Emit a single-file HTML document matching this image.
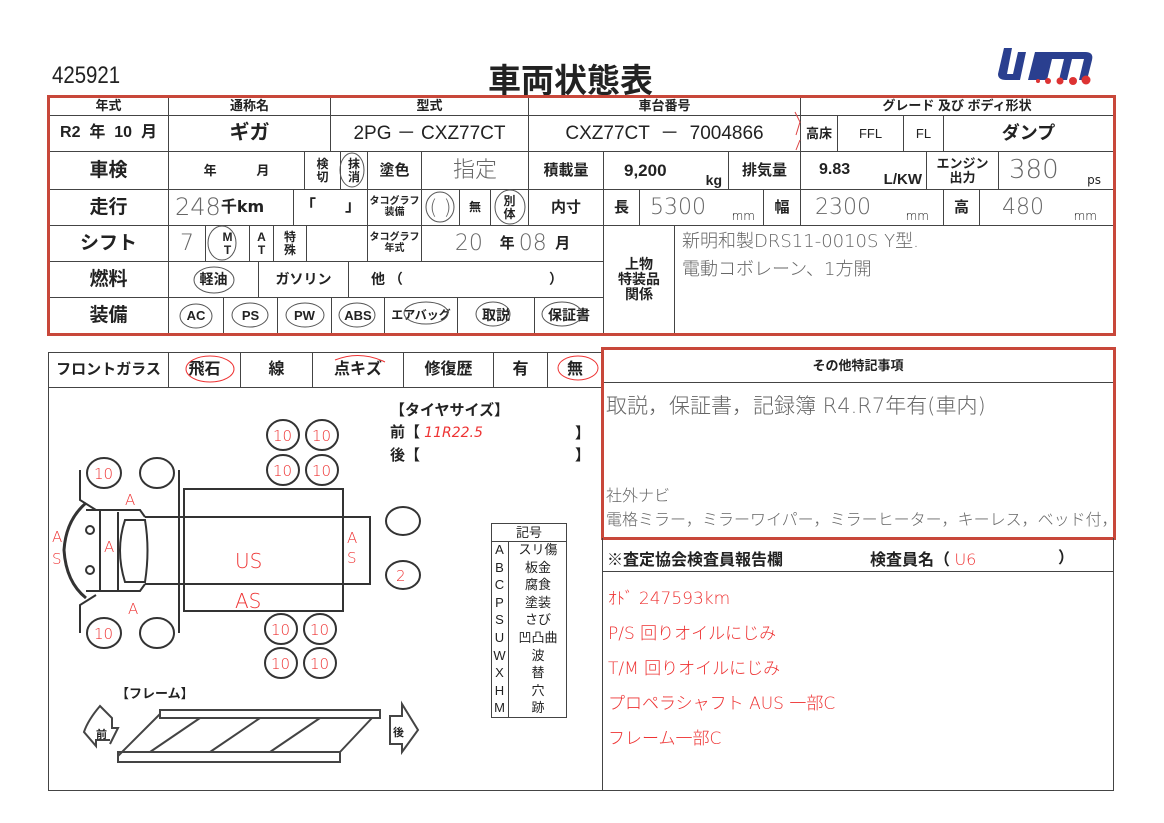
<!DOCTYPE html>
<html><head><meta charset="utf-8">
<style>
*{margin:0;padding:0;box-sizing:border-box}
body{width:1164px;height:823px;background:#fff;position:relative;overflow:hidden;font-family:"Liberation Sans","Noto Sans CJK JP",sans-serif;color:#222}
.c{position:absolute;border:1px solid #444;display:flex;align-items:center;justify-content:center;text-align:center;line-height:1.05;white-space:nowrap}
.b{font-weight:bold}
.h{font-family:"DejaVu Sans","Noto Sans CJK JP",sans-serif;font-weight:200;color:#666}
.r{color:#e33;font-family:"DejaVu Sans","Noto Sans CJK JP",sans-serif;font-weight:200}
.t{position:absolute;white-space:nowrap}
.red{position:absolute;border:3px solid #c8473a}
</style></head><body>
<div class="t" style="left:52px;top:62px;font-size:24px;transform:scaleX(0.85);transform-origin:left">425921</div>
<div class="t b" style="left:488px;top:54px;font-size:33px;">車両状態表</div>
<svg class="t" style="left:990px;top:42px" width="115" height="45" viewBox="0 0 115 45">
<path d="M14 6 L8 32 Q8 38 16 38 L30 38 L36 10 L28 10 L23 32 L17 32 L22 6 Z" fill="#2a3f8f"/>
<path d="M38 38 L45 10 L95 10 Q104 10 102 18 L97 38 L89 38 L94 17 L82 17 L77 38 L69 38 L74 17 L62 17 L57 38 Z" fill="#2a3f8f"/>
<circle cx="48" cy="39" r="2" fill="#d33"/><circle cx="58" cy="39" r="3" fill="#d33"/><circle cx="70" cy="39" r="3.5" fill="#d33"/><circle cx="83" cy="39" r="4" fill="#d33"/><circle cx="96" cy="38" r="4.5" fill="#d33"/>
</svg>

<!-- top table -->
<div class="c b" style="left:48px;top:96px;width:121px;height:20px;font-size:13px">年式</div>
<div class="c b" style="left:168px;top:96px;width:163px;height:20px;font-size:13px">通称名</div>
<div class="c b" style="left:330px;top:96px;width:199px;height:20px;font-size:13px">型式</div>
<div class="c b" style="left:528px;top:96px;width:273px;height:20px;font-size:13px">車台番号</div>
<div class="c b" style="left:800px;top:96px;width:314px;height:20px;font-size:13px">グレード 及び ボディ形状</div>

<div class="c b" style="left:48px;top:115px;width:121px;height:37px;font-size:16px">R2 &nbsp;年 &nbsp;10 &nbsp;月</div>
<div class="c b" style="left:168px;top:115px;width:163px;height:37px;font-size:20px">ギガ</div>
<div class="c" style="left:330px;top:115px;width:199px;height:37px;font-size:19px">2PG － CXZ77CT</div>
<div class="c" style="left:528px;top:115px;width:273px;height:37px;font-size:19px">CXZ77CT &nbsp;－ &nbsp;7004866</div>
<div class="c b" style="left:800px;top:115px;width:38px;height:37px;font-size:13px">高床</div>
<div class="c" style="left:837px;top:115px;width:67px;height:37px;font-size:13px">FFL</div>
<div class="c" style="left:903px;top:115px;width:41px;height:37px;font-size:13px">FL</div>
<div class="c b" style="left:943px;top:115px;width:171px;height:37px;font-size:18px">ダンプ</div>

<div class="c b" style="left:48px;top:151px;width:121px;height:39px;font-size:19px">車検</div>
<div class="c b" style="left:168px;top:151px;width:137px;height:39px;font-size:13px">年 &nbsp; &nbsp; &nbsp; &nbsp; &nbsp; 月</div>
<div class="c b" style="left:304px;top:151px;width:37px;height:39px;font-size:12px">検<br>切</div>
<div class="c b" style="left:340px;top:151px;width:28px;height:39px;font-size:12px">抹<br>消</div>
<div class="c b" style="left:367px;top:151px;width:55px;height:39px;font-size:15px">塗色</div>
<div class="c h" style="left:421px;top:151px;width:108px;height:39px;font-size:22px">指定</div>
<div class="c b" style="left:528px;top:151px;width:76px;height:39px;font-size:15px">積載量</div>
<div class="c b" style="left:603px;top:151px;width:126px;height:39px;font-size:17px;justify-content:flex-start;padding-left:20px">9,200<span style="position:absolute;right:6px;bottom:1px;font-size:14px">kg</span></div>
<div class="c b" style="left:728px;top:151px;width:73px;height:39px;font-size:15px">排気量</div>
<div class="c b" style="left:800px;top:151px;width:127px;height:39px;font-size:16px;justify-content:flex-start;padding-left:18px">9.83<span style="position:absolute;right:4px;bottom:1px;font-size:15px">L/KW</span></div>
<div class="c b" style="left:926px;top:151px;width:73px;height:39px;font-size:13px">エンジン<br>出力</div>
<div class="c h" style="left:998px;top:151px;width:116px;height:39px;font-size:26px;justify-content:flex-start;padding-left:10px">380<span style="position:absolute;right:12px;bottom:2px;font-size:12px;color:#222;font-weight:normal">ps</span></div>

<div class="c b" style="left:48px;top:189px;width:121px;height:37px;font-size:19px">走行</div>
<div class="c h" style="left:168px;top:189px;width:126px;height:37px;font-size:24px;justify-content:flex-start;padding-left:6px">248 <span style="font-size:16px;color:#222;font-weight:bold">千km</span></div>
<div class="c b" style="left:293px;top:189px;width:75px;height:37px;font-size:16px;justify-content:space-between;padding:0 6px">「<span>」</span></div>
<div class="c b" style="left:367px;top:189px;width:55px;height:37px;font-size:10px">タコグラフ<br>装備</div>
<div class="c h" style="left:421px;top:189px;width:39px;height:37px;font-size:20px">(&nbsp;)</div>
<div class="c b" style="left:459px;top:189px;width:32px;height:37px;font-size:12px">無</div>
<div class="c b" style="left:490px;top:189px;width:39px;height:37px;font-size:12px">別<br>体</div>
<div class="c b" style="left:528px;top:189px;width:76px;height:37px;font-size:15px">内寸</div>
<div class="c b" style="left:603px;top:189px;width:37px;height:37px;font-size:15px">長</div>
<div class="c h" style="left:639px;top:189px;width:125px;height:37px;font-size:22px;justify-content:flex-start;padding-left:10px">5300<span style="position:absolute;right:8px;bottom:2px;font-size:12px;color:#222">mm</span></div>
<div class="c b" style="left:763px;top:189px;width:38px;height:37px;font-size:15px">幅</div>
<div class="c h" style="left:800px;top:189px;width:144px;height:37px;font-size:22px;justify-content:flex-start;padding-left:14px">2300<span style="position:absolute;right:14px;bottom:2px;font-size:12px;color:#222">mm</span></div>
<div class="c b" style="left:943px;top:189px;width:37px;height:37px;font-size:15px">高</div>
<div class="c h" style="left:979px;top:189px;width:135px;height:37px;font-size:22px;justify-content:flex-start;padding-left:22px">480<span style="position:absolute;right:16px;bottom:2px;font-size:12px;color:#222">mm</span></div>

<div class="c b" style="left:48px;top:225px;width:121px;height:37px;font-size:19px">シフト</div>
<div class="c h" style="left:168px;top:225px;width:38px;height:37px;font-size:22px">7</div>
<div class="c b" style="left:205px;top:225px;width:45px;height:37px;font-size:12px">M<br>T</div>
<div class="c b" style="left:249px;top:225px;width:25px;height:37px;font-size:12px">A<br>T</div>
<div class="c b" style="left:273px;top:225px;width:34px;height:37px;font-size:12px">特<br>殊</div>
<div class="c" style="left:306px;top:225px;width:62px;height:37px"></div>
<div class="c b" style="left:367px;top:225px;width:55px;height:37px;font-size:10px">タコグラフ<br>年式</div>
<div class="c" style="left:421px;top:225px;width:183px;height:37px;font-size:15px"><span class="h" style="font-size:22px">20</span>&nbsp;&nbsp;&nbsp;&nbsp;<b>年</b>&nbsp;<span class="h" style="font-size:22px">08</span>&nbsp;&nbsp;<b>月</b></div>

<div class="c b" style="left:48px;top:261px;width:121px;height:37px;font-size:19px">燃料</div>
<div class="c b" style="left:168px;top:261px;width:91px;height:37px;font-size:14px">軽油</div>
<div class="c b" style="left:258px;top:261px;width:91px;height:37px;font-size:14px">ガソリン</div>
<div class="c b" style="left:348px;top:261px;width:256px;height:37px;font-size:14px;justify-content:space-between;padding:0 40px 0 22px">他 （<span>）</span></div>

<div class="c b" style="left:48px;top:297px;width:121px;height:37px;font-size:19px">装備</div>
<div class="c b" style="left:168px;top:297px;width:56px;height:37px;font-size:13px">AC</div>
<div class="c b" style="left:223px;top:297px;width:55px;height:37px;font-size:13px">PS</div>
<div class="c b" style="left:277px;top:297px;width:55px;height:37px;font-size:13px">PW</div>
<div class="c b" style="left:331px;top:297px;width:54px;height:37px;font-size:13px">ABS</div>
<div class="c b" style="left:384px;top:297px;width:74px;height:37px;font-size:12px">エアバッグ</div>
<div class="c b" style="left:457px;top:297px;width:78px;height:37px;font-size:14px">取説</div>
<div class="c b" style="left:534px;top:297px;width:70px;height:37px;font-size:14px">保証書</div>

<div class="c b" style="left:603px;top:225px;width:72px;height:109px;font-size:14px">上物<br>特装品<br>関係</div>
<div class="c" style="left:674px;top:225px;width:440px;height:109px"></div>
<div class="t h" style="left:682px;top:228px;font-size:18px;line-height:28px">新明和製DRS11-0010S Y型.<br>電動コボレーン、1方開</div>

<svg class="t" style="left:0;top:0" width="1164" height="340">
<g fill="none" stroke="#555" stroke-width="1">
<ellipse cx="352" cy="170" rx="12" ry="17"/><ellipse cx="440" cy="207" rx="14" ry="15"/><ellipse cx="510" cy="207" rx="15" ry="17"/>
<ellipse cx="222" cy="243" rx="14" ry="17"/><ellipse cx="214" cy="280" rx="20" ry="13"/>
<ellipse cx="196" cy="316" rx="16" ry="12"/><ellipse cx="250" cy="315" rx="18" ry="12"/><ellipse cx="305" cy="315" rx="19" ry="12"/><ellipse cx="357" cy="315" rx="18" ry="12"/><ellipse cx="426" cy="313" rx="22" ry="11"/><ellipse cx="493" cy="314" rx="17" ry="12"/><ellipse cx="562" cy="314" rx="20" ry="12"/>
</g>
<path d="M795 112 L800 122 L796 135 M796 150 L800 140" stroke="#d44" fill="none"/>
</svg>
<div class="red" style="left:47px;top:95px;width:1069px;height:241px"></div>

<!-- bottom left -->
<div class="c" style="left:48px;top:352px;width:555px;height:439px"></div>
<div class="c b" style="left:48px;top:352px;width:121px;height:36px;font-size:15px">フロントガラス</div>
<div class="c b" style="left:168px;top:352px;width:73px;height:36px;font-size:16px">飛石</div>
<div class="c b" style="left:240px;top:352px;width:73px;height:36px;font-size:16px">線</div>
<div class="c b" style="left:312px;top:352px;width:92px;height:36px;font-size:16px">点キズ</div>
<div class="c b" style="left:403px;top:352px;width:91px;height:36px;font-size:16px">修復歴</div>
<div class="c b" style="left:493px;top:352px;width:55px;height:36px;font-size:16px">有</div>
<div class="c b" style="left:547px;top:352px;width:56px;height:36px;font-size:16px">無</div>

<div class="t b" style="left:390px;top:400px;font-size:15px;line-height:22px">【タイヤサイズ】<br>前【 <span class="r" style="font-size:14px;font-weight:200;font-style:italic">11R22.5</span></div>
<div class="t b" style="left:390px;top:444px;font-size:15px">後【</div>
<div class="t b" style="left:575px;top:422px;font-size:15px">】</div>
<div class="t b" style="left:575px;top:444px;font-size:15px">】</div>

<svg class="t" style="left:0;top:0" width="610" height="800">
<g fill="none" stroke="#333" stroke-width="2">
<ellipse cx="283" cy="435" rx="16" ry="15"/><ellipse cx="322" cy="435" rx="16" ry="15"/>
<ellipse cx="283" cy="470" rx="16" ry="15"/><ellipse cx="322" cy="470" rx="16" ry="15"/>
<ellipse cx="281" cy="629" rx="16" ry="15"/><ellipse cx="320" cy="629" rx="16" ry="15"/>
<ellipse cx="281" cy="663" rx="16" ry="15"/><ellipse cx="320" cy="663" rx="16" ry="15"/>
<ellipse cx="403" cy="521" rx="17" ry="14"/><ellipse cx="403" cy="575" rx="17" ry="14"/>
<ellipse cx="104" cy="473" rx="17" ry="15"/><ellipse cx="157" cy="473" rx="17" ry="15"/>
<ellipse cx="104" cy="633" rx="17" ry="15"/><ellipse cx="157" cy="633" rx="17" ry="15"/>
<rect x="184" y="489" width="159" height="122"/>
<path d="M145 517 L370 517 L370 584 L145 584"/>
<path d="M80 470 L80 500 L96 510 M80 633 L80 605 L96 595 M179 470 L179 633"/>
<path d="M86 503 Q66 520 64 550 Q66 582 86 598" stroke-width="3"/>
<path d="M86 510 L140 510 L145 517 M86 591 L140 591 L145 584 M100 510 L100 591 M118 512 L118 590"/>
<path d="M125 520 Q115 550 125 582 L145 582 Q150 550 145 520 Z"/>
<circle cx="90" cy="530" r="4"/><circle cx="90" cy="570" r="4"/>
</g>
<g fill="none" stroke="#444" stroke-width="2">
<path d="M110 744 L118 728 L112 728 L112 718 L100 706 Q88 720 84 732 L96 746 L96 740 L110 740" />
<path d="M402 704 L418 730 L402 752 L402 744 L390 744 L390 716 L402 716 Z"/>
<path d="M160 710 L380 710 L380 718 L160 718 Z M118 752 L340 752 L340 762 L118 762 Z M160 714 L118 756 M200 718 L150 752 M260 718 L210 752 M320 718 L270 752 M372 718 L340 752"/>
</g>
<g fill="#e33" font-family="DejaVu Sans,sans-serif" font-size="15" font-weight="200">
<text x="273" y="441">10</text><text x="312" y="441">10</text><text x="273" y="476">10</text><text x="312" y="476">10</text>
<text x="271" y="635">10</text><text x="310" y="635">10</text><text x="271" y="669">10</text><text x="310" y="669">10</text>
<text x="94" y="479">10</text><text x="94" y="639">10</text>
<text x="125" y="505">A</text><text x="128" y="614">A</text><text x="104" y="552">A</text>
<text x="52" y="542">A</text><text x="52" y="564">S</text><text x="347" y="543">A</text><text x="347" y="563">S</text>
<text x="235" y="568" font-size="20">US</text><text x="235" y="608" font-size="20">AS</text><text x="396" y="581">2</text>
</g>
<ellipse cx="210" cy="369" rx="24" ry="13" fill="none" stroke="#e33"/>
<ellipse cx="578" cy="368" rx="20" ry="12" fill="none" stroke="#e33"/>
<path d="M335 360 Q360 350 385 362" fill="none" stroke="#e33"/>
</svg>
<div class="t b" style="left:116px;top:683px;font-size:13px">【フレーム】</div>
<div class="t b" style="left:96px;top:726px;font-size:11px">前</div>
<div class="t b" style="left:393px;top:724px;font-size:11px">後</div>

<!-- legend -->
<div class="c" style="left:491px;top:523px;width:76px;height:195px"></div>
<div class="c" style="left:491px;top:523px;width:76px;height:19px;font-size:13px">記号</div>
<div class="t" style="left:491px;top:541px;font-size:13px;line-height:17.6px;text-align:center;width:18px;border-right:1px solid #444">A<br>B<br>C<br>P<br>S<br>U<br>W<br>X<br>H<br>M</div>
<div class="t" style="left:509px;top:541px;font-size:13px;line-height:17.6px;text-align:center;width:58px">スリ傷<br>板金<br>腐食<br>塗装<br>さび<br>凹凸曲<br>波<br>替<br>穴<br>跡</div>

<!-- right -->
<div class="c" style="left:602px;top:348px;width:512px;height:443px"></div>
<div class="c b" style="left:602px;top:348px;width:512px;height:35px;font-size:13px">その他特記事項</div>
<div class="t h" style="left:606px;top:390px;font-size:21px">取説，保証書，記録簿 R4.R7年有(車内)</div>
<div class="t h" style="left:606px;top:484px;font-size:16px;line-height:24px">社外ナビ<br>電格ミラー，ミラーワイパー，ミラーヒーター，キーレス，ベッド付，</div>
<div class="red" style="left:601px;top:347px;width:515px;height:193px"></div>
<div class="c" style="left:602px;top:538px;width:512px;height:34px;border-top:none"></div>
<div class="t b" style="left:607px;top:546px;font-size:16px">※査定協会検査員報告欄</div>
<div class="t b" style="left:870px;top:546px;font-size:16px">検査員名（ <span class="r" style="font-weight:200">U6</span></div>
<div class="t b" style="left:1058px;top:544px;font-size:16px">）</div>
<div class="t r" style="left:608px;top:582px;font-size:17px;line-height:35px">ｵﾄﾞ 247593km<br>P/S 回りオイルにじみ<br>T/M 回りオイルにじみ<br>プロペラシャフト AUS 一部C<br>フレーム一部C</div>
</body></html>
